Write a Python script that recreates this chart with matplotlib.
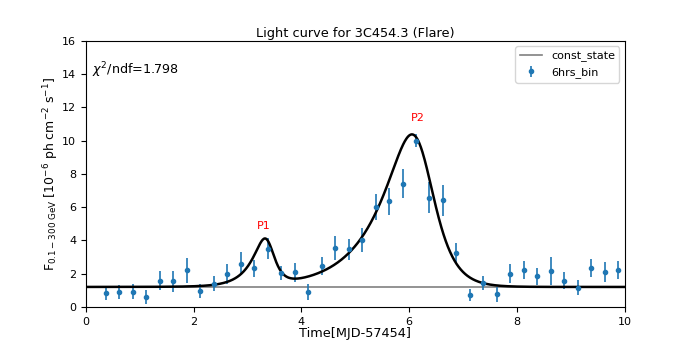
import numpy as np
from matplotlib import pyplot as plt

# 6 hour bins, MJD-57454
time = [0.375, 0.625, 0.875, 1.125, 1.375, 1.625, 1.875, 2.125, 2.375, 2.625,
        2.875, 3.125, 3.375, 3.625, 3.875, 4.125, 4.375, 4.625, 4.875, 5.125,
        5.375, 5.625, 5.875, 6.125, 6.375, 6.625, 6.875, 7.125, 7.375, 7.625,
        7.875, 8.125, 8.375, 8.625, 8.875, 9.125, 9.375, 9.625, 9.875]
flux = [0.82, 0.88, 0.90, 0.58, 1.58, 1.53, 2.20, 0.96, 1.40, 1.99,
        2.59, 2.31, 3.49, 2.06, 2.07, 0.90, 2.45, 3.57, 3.47, 4.02,
        6.00, 6.34, 7.41, 10.0, 6.57, 6.40, 3.23, 0.72, 1.43, 0.76,
        1.99, 2.23, 1.83, 2.17, 1.58, 1.16, 2.35, 2.11, 2.21]
flux_err = [0.38, 0.43, 0.45, 0.42, 0.59, 0.65, 0.74, 0.41, 0.47, 0.60,
            0.69, 0.50, 0.63, 0.42, 0.59, 0.47, 0.55, 0.72, 0.62, 0.72,
            0.76, 0.80, 0.88, 0.37, 0.92, 0.95, 0.62, 0.37, 0.44, 0.44,
            0.57, 0.54, 0.51, 0.83, 0.51, 0.45, 0.55, 0.61, 0.56]

const_state = 1.2
chi2_ndf = 1.798

# fit parameters: (t0, amplitude, rise time, decay time)
peaks = {'P1': (3.38, 5.15, 0.25, 0.12),
         'P2': (6.21, 16.9, 0.63, 0.27)}
peak_labels = {'P1': (3.3, 4.7), 'P2': (6.15, 11.2)}


def flare(t, t0, amp, tr, td):
    return amp / (np.exp((t0 - t) / tr) + np.exp((t - t0) / td))


t_fit = np.linspace(0, 10, 1000)
f_fit = const_state + sum(flare(t_fit, *p) for p in peaks.values())

fig = plt.figure(figsize=(6.92, 3.46), dpi=100)
ax = fig.add_axes([0.124, 0.113, 0.779, 0.769])

ax.axhline(const_state, color='gray', lw=1.2, label='const_state')
ax.errorbar(time, flux, yerr=flux_err, fmt='o', ms=3, color='tab:blue',
            elinewidth=1.2, label='6hrs_bin')
ax.plot(t_fit, f_fit, color='black', lw=1.8)

for name, (x, y) in peak_labels.items():
    ax.text(x, y, name, color='red', fontsize=8, ha='center')

ax.text(0.12, 14.0, r'$\chi^2$/ndf=%.3f' % chi2_ndf, fontsize=9.2)

ax.set_xlim(0, 10)
ax.set_ylim(0, 16)
ax.set_xticks([0, 2, 4, 6, 8, 10])
ax.set_yticks(range(0, 17, 2))
ax.tick_params(labelsize=8)
ax.set_title('Light curve for 3C454.3 (Flare)', fontsize=9.3, pad=3)
ax.set_xlabel('Time[MJD-57454]', fontsize=9.3, labelpad=0.5)
ax.set_ylabel(r'F$_{0.1-300\ \mathrm{GeV}}$ [10$^{-6}$ ph cm$^{-2}$ s$^{-1}$]',
              fontsize=9)
ax.yaxis.set_label_coords(-0.046, 0.5)
ax.legend(loc='upper right', fontsize=8)

plt.savefig('out.png')
